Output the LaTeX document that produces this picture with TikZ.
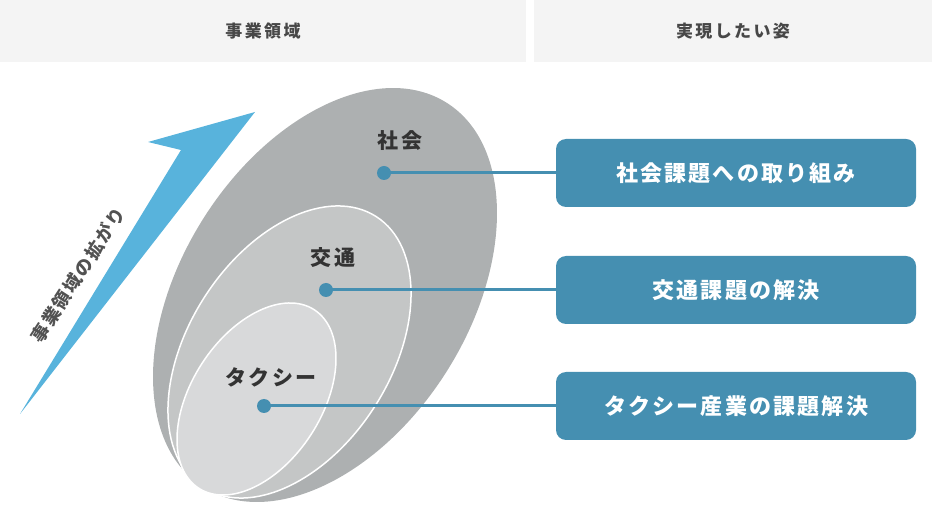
\documentclass[tikz,border=0pt]{standalone}
\usepackage{fontspec}
\setmainfont{Noto Sans CJK JP}
\usetikzlibrary{positioning}

\definecolor{fondentete}{HTML}{F4F4F4}
\definecolor{texte}{HTML}{333333}
\definecolor{gris1}{HTML}{ADB0B1}
\definecolor{gris2}{HTML}{C4C6C6}
\definecolor{gris3}{HTML}{D8D9DA}
\definecolor{bleu}{HTML}{458FB1}
\definecolor{ciel}{HTML}{58B3DC}

\tikzset{
  entete/.style={fill=fondentete, minimum height=62, inner sep=0pt,
    text=texte!90, font=\fontsize{17}{19}\selectfont\bfseries\addfontfeature{LetterSpace=14}},
  domaine/.style={text=texte, font=\fontsize{21}{24}\selectfont\bfseries\addfontfeature{LetterSpace=10}},
  point/.style={circle, fill=bleu, minimum size=14, inner sep=0pt},
  tache/.style={fill=bleu, rounded corners=10, minimum width=360,
    minimum height=68, text=white, font=\fontsize{22}{24}\selectfont\bfseries\addfontfeature{LetterSpace=10}},
  lien/.style={draw=bleu, line width=3pt}
}

\begin{document}
\begin{tikzpicture}[x=1pt, y=-1pt]
  \useasboundingbox (0,0) rectangle (932,510);
  % En-têtes
  \node[entete, minimum width=526] (hgauche) at (263,31) {事業領域};
  \node[entete, minimum width=398] (hdroite) at (733,31) {実現したい姿};
  % Flèche bleue
  \fill[ciel] (20,414) -- (181,150) -- (148,142) -- (255,112) -- cycle;
  \node[rotate=57, text=texte!85, font=\fontsize{18}{20}\selectfont\bfseries\addfontfeature{LetterSpace=10}] (lfleche) at (78,275) {事業領域の拡がり};
  % Ellipses imbriquées
  \fill[gris1, rotate around={57.6:(325,295)}] (325,295) ellipse [x radius=227.5, y radius=143.7];
  \filldraw[fill=gris2, draw=white, line width=1.5pt, rotate around={57.4:(289.5,352)}] (289.5,352) ellipse [x radius=160.8, y radius=101.2];
  \filldraw[fill=gris3, draw=white, line width=1.5pt, rotate around={57.1:(256.5,399)}] (256.5,399) ellipse [x radius=106.3, y radius=65.1];
  % Étiquettes des domaines
  \node[domaine] (lsoc) at (400,141) {社会};
  \node[domaine] (ltra) at (333,258) {交通};
  \node[domaine] (ltax) at (271,377) {タクシー};
  % Cadres de droite
  \node[tache] (tsoc) at (736,173) {社会課題への取り組み};
  \node[tache] (ttra) at (736,290) {交通課題の解決};
  \node[tache] (ttax) at (736,406) {タクシー産業の課題解決};
  % Points et liens
  \coordinate (psoc) at (384,173);
  \coordinate (ptra) at (326,290);
  \coordinate (ptax) at (264,406);
  \draw[lien] (psoc) -- (tsoc.west);
  \draw[lien] (ptra) -- (ttra.west);
  \draw[lien] (ptax) -- (ttax.west);
  \node[point] (dsoc) at (psoc) {};
  \node[point] (dtra) at (ptra) {};
  \node[point] (dtax) at (ptax) {};
\end{tikzpicture}
\end{document}
